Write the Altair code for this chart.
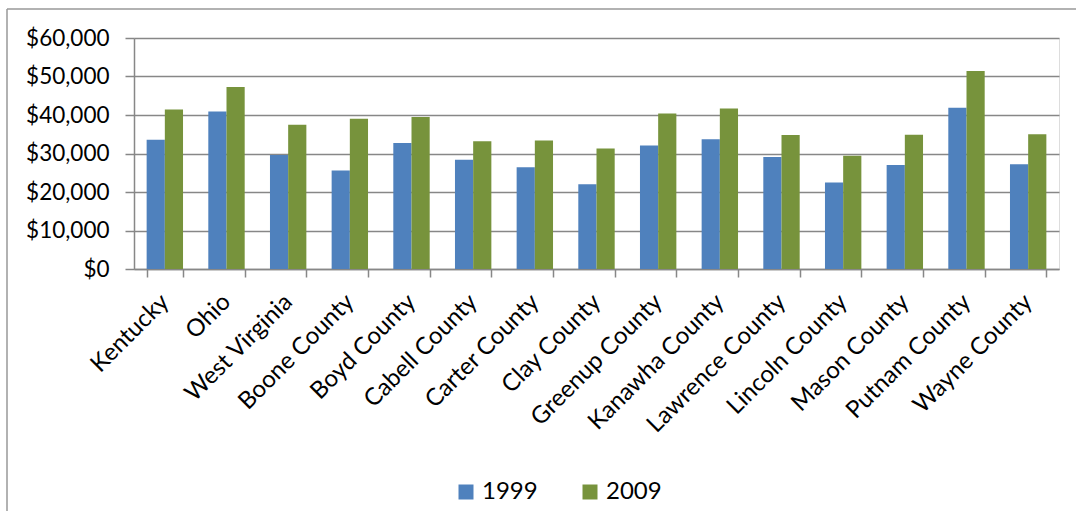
import altair as alt
import pandas as pd

# Median household income by area, 1999 vs 2009
regions = [
    "Kentucky", "Ohio", "West Virginia", "Boone County", "Boyd County",
    "Cabell County", "Carter County", "Clay County", "Greenup County",
    "Kanawha County", "Lawrence County", "Lincoln County", "Mason County",
    "Putnam County", "Wayne County",
]
income_1999 = [33600, 40900, 29600, 25600, 32700, 28400, 26400, 22000,
               32100, 33700, 29100, 22500, 27000, 41900, 27200]
income_2009 = [41400, 47300, 37500, 39000, 39500, 33200, 33400, 31300,
               40400, 41700, 34800, 29400, 34900, 51400, 35000]
years = ["1999", "2009"]
colors = ["#4F81BD", "#77933C"]

rows = []
for i, r in enumerate(regions):
    rows.append({"region": r, "year": years[0], "income": income_1999[i]})
    rows.append({"region": r, "year": years[1], "income": income_2009[i]})
df = pd.DataFrame(rows)

FONT = "Lato"
GRAY = "#878787"

bars = alt.Chart(df).mark_bar().encode(
    x=alt.X(
        "region:N",
        sort=regions,
        scale=alt.Scale(paddingInner=0.41, paddingOuter=0.205),
        axis=alt.Axis(
            title=None,
            labelAngle=-45,
            labelAlign="right",
            labelBaseline="middle",
            labelPadding=21,
            labelFontSize=24,
            labelColor="black",
            labelFont=FONT,
            labelLimit=0,
            labelOverlap=False,
            tickBand="extent",
            tickSize=8,
            tickColor=GRAY,
            tickWidth=1.5,
            domainColor=GRAY,
            domainWidth=1.5,
            grid=False,
        ),
    ),
    xOffset=alt.XOffset("year:N", sort=years,
                        scale=alt.Scale(paddingInner=0, paddingOuter=0)),
    y=alt.Y(
        "income:Q",
        scale=alt.Scale(domain=[0, 60000], nice=False),
        axis=alt.Axis(
            title=None,
            values=[0, 10000, 20000, 30000, 40000, 50000, 60000],
            format="$,.0f",
            labelFontSize=22.5,
            labelColor="black",
            labelFont=FONT,
            labelPadding=16,
            tickSize=9,
            tickColor=GRAY,
            tickWidth=1.5,
            domainColor=GRAY,
            domainWidth=1.5,
            gridColor=GRAY,
            gridWidth=1.5,
        ),
    ),
    color=alt.Color(
        "year:N",
        scale=alt.Scale(domain=years, range=colors),
        legend=alt.Legend(
            orient="none",
            legendX=320,
            legendY=442,
            direction="horizontal",
            title=None,
            symbolType="square",
            symbolSize=225,
            symbolStrokeWidth=0,
            labelFontSize=24,
            labelFont=FONT,
            labelColor="black",
            labelOffset=4,
            columnPadding=40,
        ),
    ),
)

# Outer chart frame (left and top edges)
frame_data = alt.Data(values=[{}])
frame_left = alt.Chart(frame_data).mark_rule(color="#999999", strokeWidth=1.5).encode(
    x=alt.value(-127), y=alt.value(-29), y2=alt.value(480)
)
frame_top = alt.Chart(frame_data).mark_rule(color="#999999", strokeWidth=1.5).encode(
    x=alt.value(-127), x2=alt.value(960), y=alt.value(-29)
)

chart = alt.layer(bars, frame_left, frame_top).properties(
    width=925,
    height=231,
    autosize=alt.AutoSizeParams(type="none"),
    padding={"left": 134, "top": 38, "right": 17, "bottom": 242},
).configure_view(stroke=None).configure(background="white")

chart.save("out.html", embed_options={"renderer": "svg", "actions": False})
